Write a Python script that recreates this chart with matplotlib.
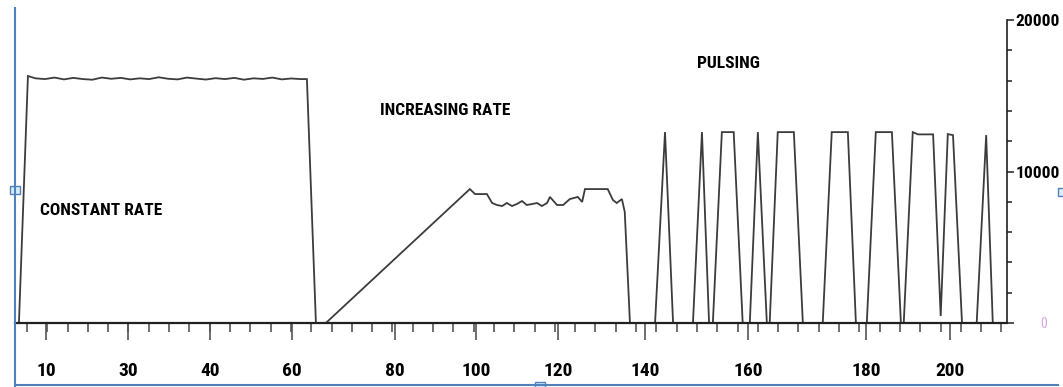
import numpy as np
import matplotlib
matplotlib.use("Agg")
import matplotlib.pyplot as plt
from matplotlib import font_manager
from matplotlib.patches import Rectangle

# time axis values and rate values
t_vals = [3.7, 4.5, 6.4, 8.0, 10.0, 12.0, 14.0, 16.0, 18.0, 20.0, 22.0, 24.0, 26.0,
          28.0, 30.0, 32.0, 34.0, 36.0, 38.0, 40.0, 42.0, 44.0, 46.0, 48.0, 50.0,
          52.0, 54.0, 56.0, 58.0, 60.0, 62.0, 64.0, 65.3, 67.2, 69.3,
          99.7, 100.8, 103.3, 104.4, 105.4, 106.5, 107.5, 108.6, 109.6, 110.7,
          111.7, 112.8, 113.9, 114.9, 116.0, 116.6, 118.1, 119.4, 120.8, 122.5,
          123.4, 124.0, 128.8, 129.9, 130.7, 131.8, 132.4, 133.5, 138.8,
          140.9, 142.6, 146.8, 148.7, 150.2, 151.0, 152.9, 155.4, 157.3, 158.8,
          160.5, 162.4, 163.0, 164.7, 168.1, 170.0, 174.2, 176.1, 179.5, 181.2,
          183.5, 185.4, 188.8, 190.7, 191.3, 193.2, 194.3, 197.5, 199.1, 200.6,
          201.7, 203.6, 206.7, 208.7, 210.1, 212.0]
rate_vals = [0, 0, 16300, 16150, 16100, 16200, 16080, 16180, 16100, 16060, 16200, 16120,
             16180, 16080, 16150, 16100, 16220, 16120, 16080, 16200, 16130, 16070, 16160,
             16100, 16180, 16060, 16150, 16110, 16200, 16080, 16140, 16100, 16100, 0, 0,
             8840, 8510, 8510, 7920, 7790, 7720, 7920, 7720, 7850, 8050,
             7790, 7850, 7920, 7720, 7920, 8320, 7790, 7790, 8180, 8320,
             7990, 8840, 8840, 8120, 7920, 8180, 7330, 0, 0,
             12600, 0, 0, 12600, 0, 0, 12600, 12600, 0, 0,
             12600, 0, 0, 12600, 12600, 0, 0, 12600, 12600, 0,
             0, 12600, 12600, 0, 0, 12600, 12450, 12450, 460, 12470,
             12400, 0, 0, 12400, 0, 0]

x_label_pos = [10.2, 27.5, 44.8, 62.1, 83.9, 101.0, 118.3, 136.7, 158.4, 183.3, 201.0]
x_label_txt = ["10", "30", "40", "60", "80", "100", "120", "140", "160", "180", "200"]
y_ticks = [0, 10000, 20000]
y_tick_txt = ["0", "10000", "20000"]

notes = ["CONSTANT RATE", "INCREASING RATE", "PULSING"]
note_pos = [(8.9, 7400), (80.7, 14000), (147.6, 17160)]


def pick_font():
    for name in ["Liberation Sans Narrow", "Roboto Condensed", "DejaVu Sans"]:
        try:
            font_manager.findfont(font_manager.FontProperties(family=name),
                                  fallback_to_default=False)
            return name
        except Exception:
            continue
    return "DejaVu Sans"


FONT = pick_font()
plt.rcParams['font.family'] = FONT

W, H = 1063, 387
fig = plt.figure(figsize=(W / 100, H / 100), dpi=100)
ax = fig.add_axes([15 / W, (H - 323) / H, (1007 - 15) / W, (323 - 20) / H])

ax.plot(t_vals, rate_vals, color="#3c3c3c", lw=1.3, solid_joinstyle="miter")

ax.set_xlim(3.67, 213.1)
ax.set_ylim(0, 20000)

for s in ["top", "left"]:
    ax.spines[s].set_visible(False)
ax.spines["bottom"].set_linewidth(1.6)
ax.spines["bottom"].set_color("#202020")
ax.spines["right"].set_linewidth(1.2)
ax.spines["right"].set_color("#202020")

# x ticks
ax.set_xticks(x_label_pos)
ax.set_xticklabels(x_label_txt, fontsize=14, fontweight="bold")
ax.set_xticks(np.arange(6.2, 213, 4.286), minor=True)
ax.tick_params(axis="x", which="major", direction="out", length=12, width=1.2,
               color="#555555", pad=16)
ax.tick_params(axis="x", which="minor", direction="out", length=6.5, width=1.2,
               color="#555555")

# right y axis
ax.yaxis.tick_right()
ax.set_yticks(y_ticks)
ax.set_yticklabels(y_tick_txt, fontsize=12.5, fontweight="bold")
ax.set_yticks(np.arange(2000, 20000, 2000), minor=True)
ax.tick_params(axis="y", which="major", direction="out", length=5, width=1.2,
               color="#333333", pad=1)
ax.tick_params(axis="y", which="minor", direction="out", length=3.5, width=1.2,
               color="#333333")
zero = ax.get_yticklabels()[0]
zero.set_color("#d9a6e0")
zero.set_fontweight("normal")
zero.set_fontsize(10)
zero.set_x(1.025)

for txt, (xx, yy) in zip(notes, note_pos):
    ax.text(xx, yy, txt, fontsize=12.5, fontweight="bold", color="black",
            ha="left", va="center")

# picture frame from the document (selection lines and handles)
blue = "#4f81bd"
fig.add_artist(plt.Line2D([15 / W, 15 / W], [0, 1 - 8 / H], color=blue, lw=1.5))
fig.add_artist(plt.Line2D([15 / W, 1058 / W], [2 / H, 2 / H], color=blue, lw=1.5))
for cx, cy, w, h in [(15, 190, 10, 8), (540, 385, 10, 6), (1061, 192, 6, 7)]:
    fig.add_artist(Rectangle(((cx - w / 2) / W, (H - cy - h / 2) / H), w / W, h / H,
                             transform=fig.transFigure, facecolor="#d9ecf8",
                             edgecolor=blue, lw=1.0))

fig.savefig("out.png", dpi=100)
